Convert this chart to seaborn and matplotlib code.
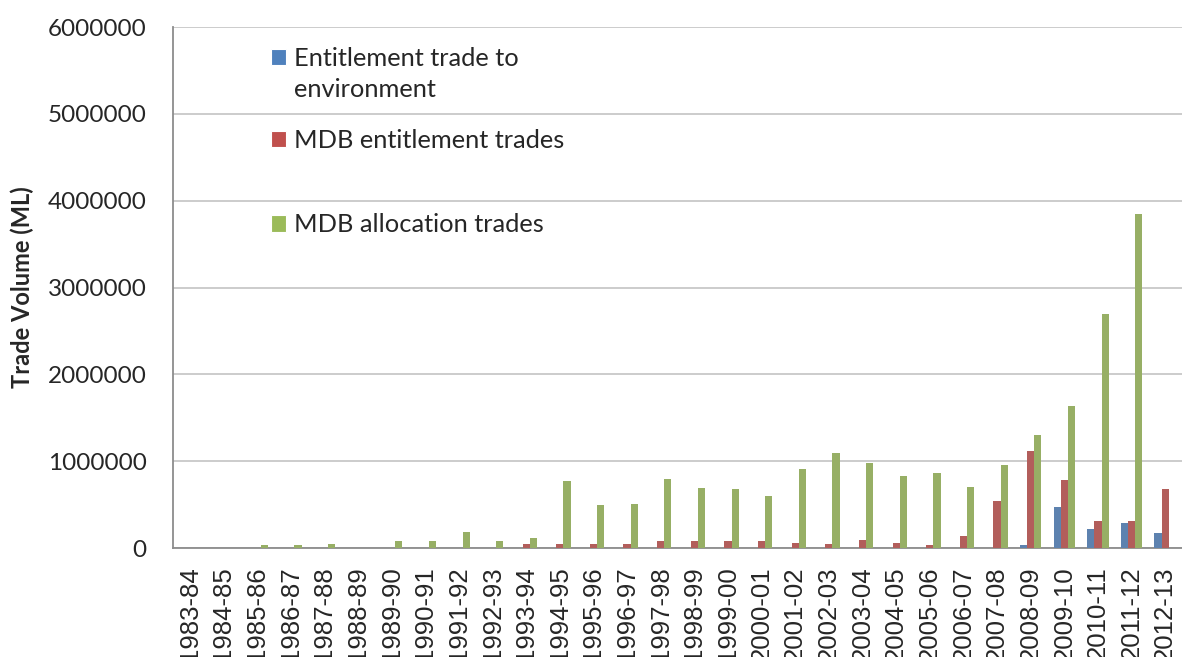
import numpy as np
import pandas as pd
import matplotlib
matplotlib.use('Agg')
import matplotlib.pyplot as plt
import seaborn as sns
from matplotlib.patches import Patch

years = ['1983-84', '1984-85', '1985-86', '1986-87', '1987-88', '1988-89',
         '1989-90', '1990-91', '1991-92', '1992-93', '1993-94', '1994-95',
         '1995-96', '1996-97', '1997-98', '1998-99', '1999-00', '2000-01',
         '2001-02', '2002-03', '2003-04', '2004-05', '2005-06', '2006-07',
         '2007-08', '2008-09', '2009-10', '2010-11', '2011-12', '2012-13']

env_trade = [0, 0, 0, 0, 0, 0, 0, 0, 0, 0, 0, 0,
             0, 0, 0, 0, 0, 0, 0, 0, 0, 0, 0, 0,
             0, 31000, 476000, 215000, 291000, 169000]

mdb_entitlement = [0, 0, 0, 0, 0, 0, 0, 0, 0, 0, 46000, 46000,
                   46000, 46000, 77000, 77000, 77000, 77000, 61000, 46000, 92000, 61000, 31000, 138000,
                   537000, 1120000, 783000, 307000, 307000, 676000]

# last value lies outside the visible picture
mdb_allocation = [0, 0, 35000, 35000, 46000, 0, 80000, 80000, 188000, 80000, 115000, 768000,
                  491000, 507000, 795000, 691000, 676000, 599000, 906000, 1090000, 983000, 825000, 860000, 706000,
                  952000, 1301000, 1639000, 2695000, 3843000, np.nan]

series = ['Entitlement trade to environment', 'MDB entitlement trades', 'MDB allocation trades']
colors = ['#4F81BD', '#C0504D', '#9BBB59']

df = pd.DataFrame({
    'year': years * 3,
    'series': [series[0]] * len(years) + [series[1]] * len(years) + [series[2]] * len(years),
    'volume': env_trade + mdb_entitlement + mdb_allocation,
})

sns.set_style('white')
plt.rcParams['font.family'] = ['Lato', 'DejaVu Sans']

fig = plt.figure(figsize=(11.82, 6.57), dpi=100)
ax = fig.add_axes([0.1464, 0.1659, 0.8536, 0.7930])

sns.barplot(data=df, x='year', y='volume', hue='series', order=years,
            hue_order=series, palette=colors, width=0.64, gap=0,
            errorbar=None, legend=False, ax=ax, zorder=3, linewidth=0)

ax.set_ylim(0, 6000000)
ax.set_xlim(-0.5, 29.1)
ax.set_yticks(np.arange(0, 6000001, 1000000))
ax.set_yticklabels([str(v) for v in range(0, 6000001, 1000000)], fontsize=17.5)
ax.yaxis.grid(True, color='#C8C8C8', linewidth=1.3, zorder=0)
ax.set_axisbelow(True)

ax.set_xticks(range(len(years)))
ax.set_xticklabels(years, rotation=90, fontsize=18.5, family=['Liberation Sans', 'DejaVu Sans'])
ax.set_xticks(np.arange(-0.5, len(years), 1), minor=True)
ax.tick_params(axis='x', which='major', length=0, pad=13)
ax.tick_params(axis='x', which='minor', length=8, width=1.2, color='#8C8C8C', direction='out')
ax.tick_params(axis='y', which='major', length=6, width=1.2, color='#8C8C8C', direction='out', pad=13)

for s in ['top', 'right']:
    ax.spines[s].set_visible(False)
for s in ['left', 'bottom']:
    ax.spines[s].set_color('#8C8C8C')
    ax.spines[s].set_linewidth(1.3)

ax.set_xlabel('')
ax.set_ylabel('Trade Volume (ML)', fontsize=17, fontweight='bold', labelpad=10)

# legend, Excel style: marker next to the first line, wide gaps between entries
handles = [Patch(facecolor=c, edgecolor='white', linewidth=0.8) for c in colors]
blank = Patch(alpha=0)
leg_kw = dict(frameon=False, fontsize=18.3, handlelength=0.6, handleheight=0.6,
              handletextpad=0.3, borderpad=0, borderaxespad=0, loc='center left')
leg1 = ax.legend([handles[0], blank], ['Entitlement trade to', 'environment'],
                 bbox_to_anchor=(0.097, 0.91), labelspacing=0.34, **leg_kw)
ax.add_artist(leg1)
leg2 = ax.legend(handles[1:2], series[1:2], bbox_to_anchor=(0.097, 0.783), **leg_kw)
ax.add_artist(leg2)
ax.legend(handles[2:], series[2:], bbox_to_anchor=(0.097, 0.62), **leg_kw)

fig.savefig('out.png', dpi=100)
